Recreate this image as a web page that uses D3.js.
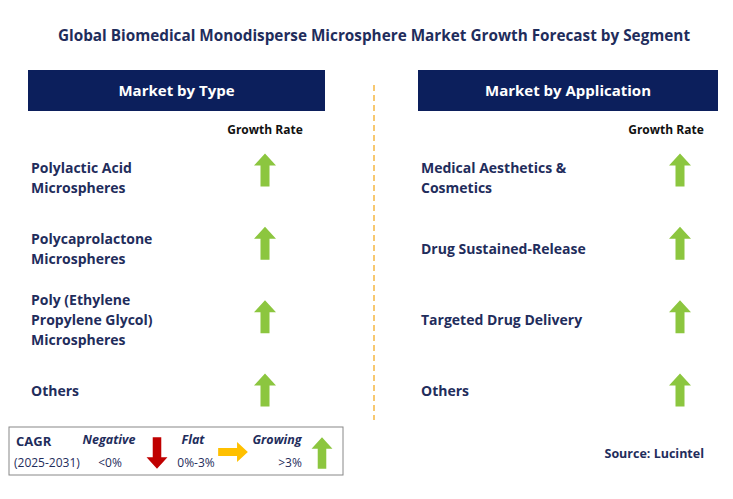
<!DOCTYPE html><html><head><meta charset="utf-8">
<script src="https://cdn.jsdelivr.net/npm/d3@7"></script>
<style>body{margin:0;background:#fff}</style></head><body><svg id="c" width="733" height="499"></svg>
<script>
const typeCategories=["Polylactic Acid|Microspheres","Polycaprolactone|Microspheres","Poly (Ethylene|Propylene Glycol)|Microspheres","Others"];
const typeTrend=["up","up","up","up"];
const appCategories=["Medical Aesthetics &|Cosmetics","Drug Sustained-Release","Targeted Drug Delivery","Others"];
const appTrend=["up","up","up","up"];
const title="Global Biomedical Monodisperse Microsphere Market Growth Forecast by Segment";
const navy="#0c1f5c", green="#8cc63f", red="#c00000", amber="#ffc000", txt="#1f2d5c";
const svg=d3.select("#c"), F="'Open Sans', 'Liberation Sans', sans-serif";
svg.append("text").attr("x",374).attr("y",41).attr("text-anchor","middle").attr("font-family",F).attr("font-weight","bold").attr("font-size",15.3).attr("fill",txt).text(title);
svg.append("line").attr("x1",374).attr("x2",374).attr("y1",85).attr("y2",420).attr("stroke","#f5b642").attr("stroke-width",1.5).attr("stroke-dasharray","6,4");
function arrow(g,x,y,dir,sc=1){
  const w=11*sc,s=4.5*sc,h=16.5*sc,hh=12*sc;
  let p;
  if(dir==="up") p=[[x,y-h],[x+w,y-h+hh],[x+s,y-h+hh],[x+s,y+h],[x-s,y+h],[x-s,y-h+hh],[x-w,y-h+hh]];
  else if(dir==="down") p=[[x,y+h],[x+w,y+h-hh],[x+s,y+h-hh],[x+s,y-h],[x-s,y-h],[x-s,y+h-hh],[x-w,y+h-hh]];
  else p=[[x+h,y],[x+h-hh,y-w],[x+h-hh,y-s],[x-h,y-s],[x-h,y+s],[x+h-hh,y+s],[x+h-hh,y+w]];
  g.append("polygon").attr("points",p.map(d=>d.join(",")).join(" ")).attr("fill",dir==="up"?green:dir==="down"?red:amber);
}
function panel(x0,x1,head,cats,trend,tx,ax,gx){
  svg.append("rect").attr("x",x0).attr("y",70).attr("width",x1-x0).attr("height",41).attr("fill",navy);
  svg.append("text").attr("x",(x0+x1)/2).attr("y",96).attr("text-anchor","middle").attr("font-family",F).attr("font-weight","bold").attr("font-size",15).attr("fill","#fff").text(head);
  svg.append("text").attr("x",gx).attr("y",134).attr("text-anchor","middle").attr("font-family",F).attr("font-weight","bold").attr("font-size",12).attr("fill","#111").text("Growth Rate");
  const yt=d3.scalePoint().domain(cats).range([178,391]);
  const ya=d3.scalePoint().domain(cats).range([170,390]);
  cats.forEach((c,i)=>{
    const lines=c.split("|"), cy=yt(c);
    const t=svg.append("text").attr("font-family",F).attr("font-weight","bold").attr("font-size",14).attr("fill",txt);
    lines.forEach((l,j)=>t.append("tspan").attr("x",tx).attr("y",cy+5+(j-(lines.length-1)/2)*20).text(l));
    arrow(svg,ax,ya(c),trend[i]);
  });
}
panel(28,325,"Market by Type",typeCategories,typeTrend,31,265,265);
panel(418,718,"Market by Application",appCategories,appTrend,421,680,666);
svg.append("rect").attr("x",9).attr("y",427).attr("width",334).attr("height",48).attr("fill","#fff").attr("stroke","#888").attr("stroke-width",1);
const lt=(x,y,s,o={})=>svg.append("text").attr("x",x).attr("y",y).attr("font-family",F).attr("font-size",o.size||12).attr("font-weight",o.w||"normal").attr("font-style",o.i||"normal").attr("fill",txt).attr("text-anchor",o.a||"start").text(s);
lt(16,446,"CAGR",{w:"bold",size:13});
lt(14,467,"(2025-2031)",{size:12});
lt(109,444,"Negative",{w:"bold",i:"italic",a:"middle",size:12.5});
lt(110,467,"<0%",{a:"middle"});
lt(193,444,"Flat",{w:"bold",i:"italic",a:"middle",size:12.5});
lt(196,467,"0%-3%",{a:"middle"});
lt(277,444,"Growing",{w:"bold",i:"italic",a:"middle",size:12.5});
lt(290,467,">3%",{a:"middle"});
arrow(svg,157,453,"down",0.95);
arrow(svg,233,452,"right",0.9);
arrow(svg,322,453,"up",0.95);
lt(704,458,"Source: Lucintel",{w:"bold",size:12.5,a:"end"});
</script></body></html>
